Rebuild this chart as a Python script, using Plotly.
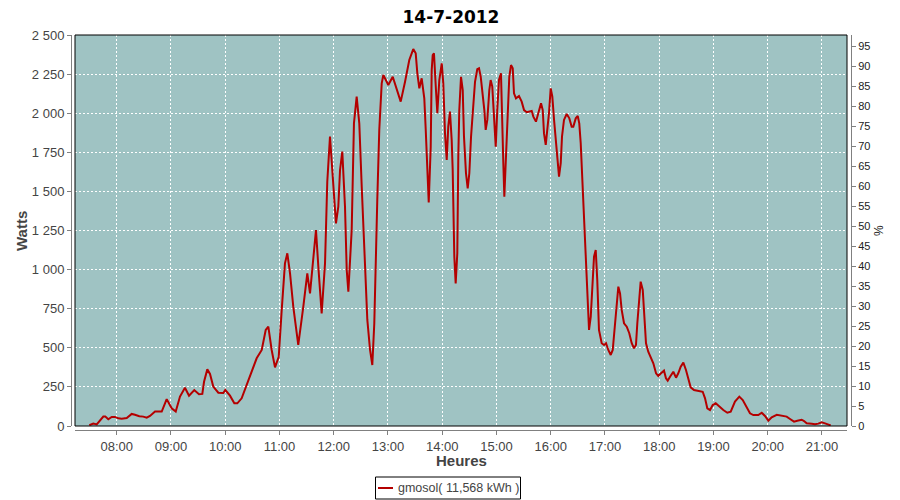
import plotly.graph_objects as go
from datetime import datetime, timedelta

# ---------------- data ----------------
title_text = "14-7-2012"
series_name = "gmosol( 11,568 kWh )"
y_title = "Watts"
x_title = "Heures"
y2_title = "%"

# minutes after 07:00 on 14-7-2012
minutes_after_7 = [
    29.7, 34.1, 37.9, 41.5, 45.2, 47.4, 50.7, 54.5, 58.1, 61.8,
    65.5, 71.1, 76.6, 80.2, 85.0, 89.4, 93.2, 96.8, 102.4, 109.8,
    115.3, 120.8, 125.3, 130.0, 135.5, 140.0, 145.8, 151.0, 154.7, 156.6,
    160.2, 163.2, 166.8, 172.4, 177.9, 180.1, 185.3, 190.1, 193.4, 198.2,
    203.8, 209.3, 214.8, 220.4, 224.8, 227.7, 231.4, 235.1, 239.2, 242.5,
    246.1, 248.7, 251.7, 255.3, 260.8, 266.4, 270.8, 273.8, 277.4, 280.4,
    283.0, 286.7, 290.4, 292.9, 295.9, 299.6, 302.5, 305.1, 307.0, 309.5,
    312.5, 314.4, 316.2, 319.9, 322.4, 325.4, 328.3, 331.0, 334.6, 337.2,
    340.2, 342.7, 344.9, 346.8, 348.2, 350.4, 353.1, 354.9, 360.4, 365.3,
    369.7, 374.1, 378.9, 383.6, 388.0, 390.7, 392.5, 394.7, 397.3, 400.2,
    401.8, 402.9, 405.1, 407.3, 408.4, 409.5, 410.9, 413.1, 414.6, 416.8,
    419.5, 421.2, 423.1, 425.0, 426.7, 428.6, 430.5, 431.6, 432.3, 433.4,
    434.9, 436.7, 437.8, 438.9, 440.8, 442.7, 444.1, 446.3, 448.2, 450.0,
    451.9, 453.7, 456.3, 458.8, 460.7, 462.6, 464.8, 466.6, 468.1, 469.9,
    472.1, 473.6, 475.4, 477.0, 479.2, 480.9, 482.8, 485.0, 486.5, 487.6,
    488.7, 490.6, 492.4, 494.2, 496.1, 498.0, 499.4, 501.6, 504.9, 507.9,
    510.5, 513.5, 519.0, 520.8, 523.7, 527.4, 529.3, 531.2, 532.6, 534.5,
    536.2, 538.1, 540.0, 541.8, 543.7, 545.5, 547.3, 549.2, 551.1, 552.5,
    554.7, 557.7, 560.6, 563.2, 565.0, 567.7, 569.9, 571.6, 573.2, 574.6,
    576.1, 577.2, 578.7, 579.8, 581.3, 582.4, 584.3, 586.0, 587.9, 589.8,
    591.5, 593.4, 596.4, 599.0, 601.2, 603.7, 606.4, 608.6, 611.1, 613.0,
    614.8, 616.7, 618.5, 621.1, 624.1, 626.9, 629.6, 632.1, 634.3, 635.8,
    637.7, 639.5, 641.8, 643.5, 645.4, 647.9, 650.6, 653.5, 656.5, 659.0,
    662.0, 665.3, 667.5, 669.4, 672.0, 675.6, 678.6, 681.1, 683.8, 686.7,
    689.6, 692.2, 694.8, 698.5, 703.3, 708.1, 710.7, 713.2, 716.2, 719.2,
    722.5, 726.5, 730.9, 735.3, 739.1, 743.8, 748.6, 752.4, 756.8, 760.4,
    764.1, 769.6, 773.4, 777.0, 780.7, 784.4, 790.0, 795.5, 801.0, 804.7,
    809.1, 812.7, 817.6, 820.2, 823.1, 828.7, 832.3, 836.0, 839.7, 843.4,
    847.0, 849.7,
]

watts = [
    5, 15, 10, 38, 60, 60, 43, 58, 58, 49,
    47, 51, 77, 72, 62, 60, 53, 64, 92, 92,
    172, 113, 92, 188, 245, 194, 230, 203, 205, 283,
    362, 333, 252, 213, 211, 230, 194, 145, 145, 177,
    262, 347, 433, 486, 614, 635, 486, 375, 443, 742,
    1040, 1104, 976, 763, 518, 763, 976, 848, 1083, 1253,
    1019, 720, 1040, 1562, 1850, 1573, 1296, 1402, 1637, 1754,
    1402, 997, 859, 1253, 1935, 2106, 1935, 1530, 1040, 678,
    486, 390, 657, 1168, 1445, 1893, 2191, 2244, 2180, 2233,
    2148, 2074, 2201, 2340, 2410, 2383, 2255, 2159, 2223, 2095,
    1893, 1743, 1430, 1786, 2276, 2372, 2383, 2148, 2000, 2212,
    2319, 2191, 1871, 1701, 1914, 2010, 1829, 1637, 1381, 1083,
    912, 1104, 1722, 2020, 2233, 2148, 1850, 1616, 1520, 1616,
    1850, 2000, 2201, 2281, 2287, 2233, 2127, 2020, 1893, 1957,
    2148, 2212, 2170, 1978, 1786, 2020, 2212, 2255, 2000, 1680,
    1466, 1722, 2000, 2233, 2308, 2287, 2127, 2095, 2110, 2074,
    2020, 2006, 2014, 1978, 1946, 2020, 2063, 2020, 1871, 1797,
    1893, 2000, 2159, 2106, 1957, 1829, 1680, 1594, 1680, 1850,
    1957, 1995, 1967, 1914, 1914, 1967, 1982, 1935, 1808, 1637,
    1424, 1232, 1083, 912, 763, 614, 699, 912, 1083, 1125,
    933, 614, 529, 518, 529, 486, 454, 486, 635, 784,
    891, 848, 742, 657, 635, 593, 529, 497, 518, 657,
    827, 923, 870, 720, 529, 475, 443, 401, 337, 320,
    337, 354, 305, 290, 315, 347, 309, 337, 379, 405,
    358, 294, 247, 230, 226, 219, 177, 113, 102, 134,
    145, 124, 102, 85, 92, 156, 188, 166, 124, 81,
    70, 70, 85, 64, 34, 56, 72, 66, 60, 45,
    28, 34, 40, 32, 17, 15, 11, 15, 24, 17,
    8, 4,
]

x_range = ["2012-07-14 07:13:53", "2012-07-14 21:27:42"]
w_range = [0, 2500]
w_step = 250
pct_range = [0, 97.75]
pct_step = 5

assert len(minutes_after_7) == len(watts), (len(minutes_after_7), len(watts))

base = datetime(2012, 7, 14, 7, 0)
times = [base + timedelta(minutes=m) for m in minutes_after_7]

# ---------------- layout geometry ----------------
# the page body has an 8px margin, so the figure is drawn 8px smaller
# and every reference pixel position is expressed in paper coordinates.
OFF = 8
W, H = 900 - OFF, 500 - OFF
ML, MR, MT, MB = 71 - OFF, 49, 35 - OFF, 70
PW = W - ML - MR
PH = H - MT - MB


def px(x):
    """reference-picture pixel x -> paper x"""
    return (x - 71) / PW


def py(y):
    """reference-picture pixel y -> paper y"""
    return (430 - y) / PH


LINE_RED = "#b40000"
BG = "#9fc3c3"
AX = "#808080"
TXT = "#444444"
FONT = "Liberation Sans"

fig = go.Figure()
fig.add_trace(go.Scatter(
    x=times, y=watts, mode="lines", name=series_name,
    line=dict(color=LINE_RED, width=2), showlegend=False, yaxis="y",
))
fig.add_trace(go.Scatter(
    x=[times[0]], y=[0], mode="markers", marker=dict(opacity=0),
    yaxis="y2", showlegend=False, hoverinfo="skip",
))

fig.update_layout(
    width=W, height=H,
    margin=dict(l=ML, r=MR, t=MT, b=MB, autoexpand=False),
    paper_bgcolor="white", plot_bgcolor=BG,
    separators=", ",
    showlegend=False,
    title=dict(text="<b>%s</b>" % title_text, x=(451 - OFF) / W, xref="container",
               xanchor="center", y=1 - 3 / H, yref="container", yanchor="top",
               pad=dict(t=0, b=0, l=0, r=0),
               font=dict(family="DejaVu Sans", size=17, color="#000000")),
    xaxis=dict(
        type="date", domain=[px(75), px(847)], anchor="free", position=0,
        range=x_range, tick0="2012-07-14 08:00:00", dtick=3600000,
        tickformat="%H:%M", automargin=False,
        showgrid=True, gridcolor="white", gridwidth=1, griddash="2px,2px",
        showline=True, linecolor=AX, linewidth=1,
        ticks="outside", ticklen=4, tickcolor=AX,
        tickfont=dict(family=FONT, size=13, color=TXT),
        zeroline=False,
    ),
    yaxis=dict(
        domain=[py(426), 1], anchor="free", position=0, automargin=False,
        range=w_range, tick0=0, dtick=w_step, separatethousands=True,
        showgrid=True, gridcolor="white", gridwidth=1, griddash="2px,2px",
        showline=True, linecolor=AX, linewidth=1,
        ticks="outside", ticklen=4, tickcolor=AX,
        tickfont=dict(family=FONT, size=13, color=TXT),
        zeroline=False,
    ),
    yaxis2=dict(
        overlaying="y", side="right", anchor="free", position=1, automargin=False,
        range=pct_range, tick0=0, dtick=pct_step,
        showgrid=False, showline=True, linecolor=AX, linewidth=1,
        ticks="outside", ticklen=4, tickcolor=AX,
        tickfont=dict(family=FONT, size=11, color="#222222"),
        zeroline=False,
    ),
)

shapes = [
    # plot frame
    dict(type="rect", xref="x domain", yref="y domain", x0=0, x1=1, y0=0, y1=1,
         line=dict(color="#000000", width=1), fillcolor="rgba(0,0,0,0)", layer="above"),
    # legend box
    dict(type="rect", xref="paper", yref="paper",
         x0=px(375.5), x1=px(520.5), y0=py(499), y1=py(477),
         line=dict(color="#000000", width=1), fillcolor="white"),
    # legend line sample
    dict(type="line", xref="paper", yref="paper",
         x0=px(378), x1=px(393), y0=py(488), y1=py(488),
         line=dict(color=LINE_RED, width=2)),
]

annotations = [
    dict(text="<b>%s</b>" % y_title, xref="paper", yref="paper",
         x=px(21), y=py(231), textangle=-90, showarrow=False,
         xanchor="center", yanchor="middle",
         font=dict(family=FONT, size=15, color=TXT)),
    dict(text="<b>%s</b>" % x_title, xref="paper", yref="paper",
         x=px(461), y=py(460), showarrow=False,
         xanchor="center", yanchor="middle",
         font=dict(family=FONT, size=15, color=TXT)),
    dict(text=y2_title, xref="paper", yref="paper",
         x=px(879), y=py(231), textangle=-90, showarrow=False,
         xanchor="center", yanchor="middle",
         font=dict(family=FONT, size=12, color="#222222")),
    dict(text=series_name, xref="paper", yref="paper",
         x=px(396), y=py(488), showarrow=False,
         xanchor="left", yanchor="middle",
         font=dict(family=FONT, size=12.5, color=TXT)),
]

fig.update_layout(shapes=shapes, annotations=annotations)

fig.write_html("out.html")
